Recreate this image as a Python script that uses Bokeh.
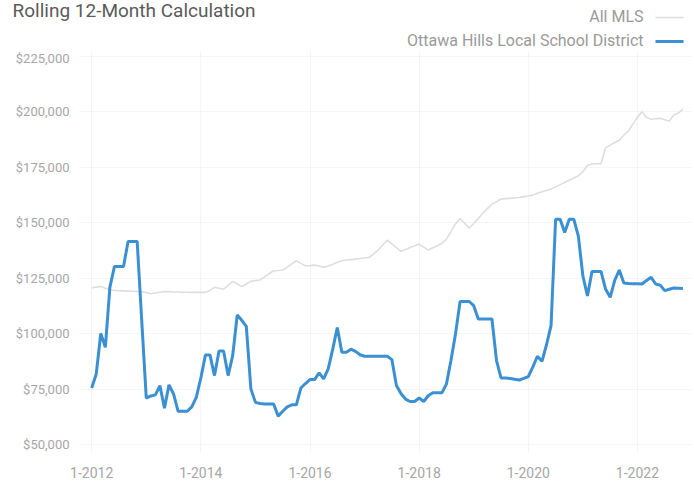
from bokeh.plotting import figure
from bokeh.layouts import column
from bokeh.models import Label, FixedTicker, NumeralTickFormatter, Range1d
from bokeh.embed import file_html
from bokeh.resources import INLINE

tick_positions = [0, 24, 48, 72, 96, 120]
tick_labels = ["1-2012", "1-2014", "1-2016", "1-2018", "1-2020", "1-2022"]
y_ticks = [50000, 75000, 100000, 125000, 150000, 175000, 200000, 225000]

all_mls = [120600, 121000, 121300, 120500, 119700, 119500, 119400, 119300, 119200, 119100,
           119000, 119000, 118500, 118000, 118300, 118700, 119000, 118900, 118800, 118800,
           118700, 118700, 118600, 118600, 118600, 118600, 119500, 120900, 120500, 120100,
           121800, 123600, 122400, 121200, 122400, 123600, 123900, 124200, 125600, 127000,
           128400, 128500, 128700, 130000, 131500, 132900, 131700, 130600, 130700, 130900,
           130500, 130000, 130500, 131300, 132200, 132900, 133200, 133400, 133600, 133900,
           134100, 134400, 136000, 137700, 140000, 142200, 140500, 138800, 137100, 138000,
           138800, 139600, 140400, 139000, 137700, 138700, 139600, 140800, 142600, 146000,
           149500, 151900, 149800, 147600, 149700, 152000, 154300, 156400, 158400, 159500,
           160700, 160900, 161000, 161200, 161400, 161800, 162100, 162500, 163300, 164000,
           164600, 165200, 166200, 167200, 168200, 169200, 170200, 171200, 173000, 175800,
           176500, 176600, 176700, 183900, 185000, 186200, 187200, 189500, 191400, 194500,
           197500, 200100, 197500, 196700, 196900, 197100, 196500, 195900, 198600, 199500,
           201200]

ottawa_hills = [75500, 81800, 100100, 93800, 120900, 130300, 130300, 130300, 141600, 141600,
                141600, 106000, 70900, 71900, 72400, 76600, 66400, 76900, 72800, 65000,
                65000, 65000, 67000, 71300, 80000, 90400, 90400, 81100, 92200, 92200,
                81100, 90100, 108400, 106000, 103300, 75100, 69000, 68500, 68300, 68300,
                68300, 62800, 65000, 67000, 67900, 67900, 75500, 77500, 79300, 79300,
                82300, 79600, 84100, 93000, 102800, 91600, 91600, 93000, 92000, 90500,
                89800, 89800, 89800, 89800, 89800, 89800, 88300, 76600, 73000, 70500,
                69400, 69400, 71000, 69400, 72000, 73300, 73300, 73300, 77300, 88000,
                100000, 114500, 114500, 114500, 112600, 106600, 106600, 106600, 106600, 88000,
                80000, 80000, 79800, 79400, 79100, 79800, 80600, 85000, 89800, 87500,
                95000, 103600, 151600, 151600, 145600, 151600, 151600, 144000, 126000, 117000,
                128000, 128000, 128000, 120000, 116400, 124000, 128700, 122800, 122600, 122500,
                122500, 122400, 124000, 125400, 122400, 121900, 119400, 120000, 120600, 120500,
                120400]

series_names = ["All MLS", "Ottawa Hills Local School District"]
series_colors = ["#dedede", "#3b8fd3"]
series_widths = [1.6, 3]

months = list(range(len(all_mls)))

FONT = "Roboto"
GRAY_TXT = "#9a9a9a"
HEAD_H = 50

# ---- header (title + legend) ----
head = figure(width=694, height=HEAD_H, output_backend="svg", toolbar_location=None,
              x_range=Range1d(0, 694), y_range=Range1d(HEAD_H, 0),
              x_axis_type=None, y_axis_type=None, min_border=0)
head.frame_align = False
head.outline_line_color = None
head.xgrid.visible = False
head.ygrid.visible = False

head.add_layout(Label(x=12, y=10, text="Rolling 12-Month Calculation", text_font=FONT,
                      text_font_size="19px", text_color="#5a5a5a", text_baseline="alphabetic"))
for name, color, w, ly in zip(series_names, series_colors, series_widths, [16, 40]):
    head.add_layout(Label(x=643, y=ly, text=name, text_font=FONT, text_font_size="16px",
                          text_color=GRAY_TXT, text_align="right", text_baseline="middle"))
    head.segment(x0=[655], x1=[683], y0=[ly + 1], y1=[ly + 1], line_color=color, line_width=w)

# ---- main chart ----
p = figure(width=694, height=484 - HEAD_H, output_backend="svg", toolbar_location=None,
           x_range=Range1d(-2.9, 132.1), y_range=Range1d(46400, 227700),
           min_border_left=78, min_border_right=2, min_border_top=0, min_border_bottom=32)
p.frame_align = False
p.outline_line_color = None

p.line(months, all_mls, line_color=series_colors[0], line_width=series_widths[0])
p.line(months, ottawa_hills, line_color=series_colors[1], line_width=series_widths[1])

p.xaxis.ticker = FixedTicker(ticks=tick_positions)
p.xaxis.major_label_overrides = {t: l for t, l in zip(tick_positions, tick_labels)}
p.yaxis.ticker = FixedTicker(ticks=y_ticks)
p.yaxis.formatter = NumeralTickFormatter(format="$0,0")
for ax in (p.xaxis[0], p.yaxis[0]):
    ax.axis_line_color = None
    ax.major_tick_line_color = None
    ax.minor_tick_line_color = None
    ax.major_label_text_font = FONT
    ax.major_label_text_color = "#a6a6a6"
p.yaxis.major_label_text_font_size = "13px"
p.xaxis.major_label_text_font_size = "14px"
p.yaxis.major_label_standoff = 3
p.xaxis.major_label_standoff = 8
p.xgrid.grid_line_color = "#f5f5f5"
p.ygrid.grid_line_color = "#f5f5f5"

layout = column(head, p, spacing=0)
open("out.html", "w").write(file_html(layout, INLINE))
